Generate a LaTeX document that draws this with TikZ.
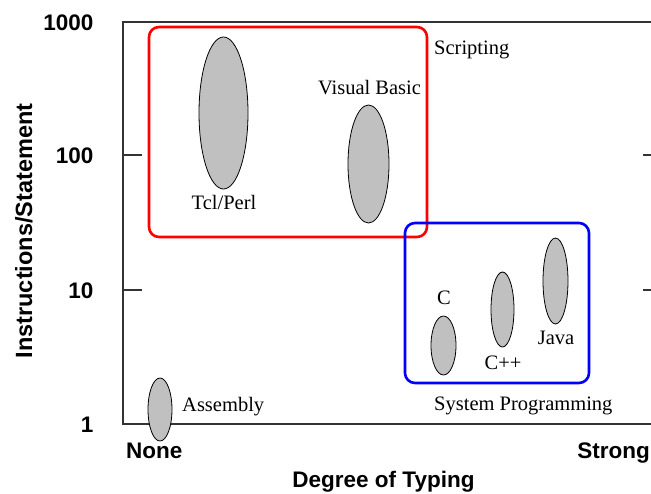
\documentclass[tikz,border=0pt]{standalone}
\usepackage{fontspec}
\setmainfont{Liberation Serif}
\newfontfamily\axisfont{Liberation Sans}
\usetikzlibrary{shapes.geometric}
\definecolor{blobgray}{HTML}{C0C0C0}
\definecolor{axisgray}{HTML}{333333}

\begin{document}
\begin{tikzpicture}[x=1pt,y=-1pt,
    lang/.style={font=\fontsize{20.5}{24}\selectfont},
    axlabel/.style={font=\axisfont\bfseries\fontsize{22.5}{26}\selectfont},
    blob/.style={draw,ellipse,fill=blobgray,line width=0.8pt,inner sep=0pt},
    region/.style={line width=2.6pt,rounded corners=10pt}]
      \useasboundingbox (0,0) rectangle (651,493);
      % axes frame
      \draw[axisgray,line width=1.3pt] (651,22) -- (123,22) -- (123,424) -- (651,424);
      \foreach \yy in {155,290} {
        \draw[axisgray,line width=1.3pt] (123,\yy) -- (142,\yy);
        \draw[axisgray,line width=1.3pt] (643,\yy) -- (651,\yy);
      }
      \node[axlabel,anchor=base east] (t1000) at (97,30) {1000};
      \node[axlabel,anchor=base east] (t100) at (97,163) {100};
      \node[axlabel,anchor=base east] (t10) at (97,298) {10};
      \node[axlabel,anchor=base east] (t1) at (97,432) {1};
      \node[axlabel,anchor=base west,inner sep=0pt] (none) at (126,458) {None};
      \node[axlabel,anchor=base east,inner sep=0pt] (strong) at (650,458) {Strong};
      \node[axlabel,anchor=base] (xlabel) at (383.5,487.5) {Degree of Typing};
      \node[axlabel,font=\axisfont\bfseries\fontsize{23.5}{27}\selectfont,anchor=base,rotate=90,inner sep=0pt] (ylabel) at (32,231) {Instructions/Statement};
      % language families
      \draw[region,red] (149,27) rectangle (427,237);
      \draw[region,blue] (405,223) rectangle (589,383);
      \node[lang,anchor=base west,inner sep=0pt] (scripting) at (434,54.5) {Scripting};
      \node[lang,anchor=base west,inner sep=0pt] (sysprog) at (434,410.5) {System Programming};
      % languages
      \node[blob,minimum width=49,minimum height=152] (tcl) at (223.5,113) {};
      \node[blob,minimum width=41,minimum height=118] (vb) at (368.5,164) {};
      \node[blob,minimum width=24,minimum height=63] (asm) at (160,409.5) {};
      \node[blob,minimum width=25,minimum height=59] (c) at (443.5,345.5) {};
      \node[blob,minimum width=23,minimum height=75] (cpp) at (502.5,309.5) {};
      \node[blob,minimum width=25,minimum height=86] (java) at (555.5,281) {};
      \node[lang,anchor=base] (tcllabel) at (224,209) {Tcl/Perl};
      \node[lang,anchor=base] (vblabel) at (369.5,94) {Visual Basic};
      \node[lang,anchor=base west,inner sep=0pt] (asmlabel) at (182,411.5) {Assembly};
      \node[lang,anchor=base] (clabel) at (444,304) {C};
      \node[lang,anchor=base] (cpplabel) at (503,369) {C++};
      \node[lang,anchor=base] (javalabel) at (556,344) {Java};
    \end{tikzpicture}
\end{document}
